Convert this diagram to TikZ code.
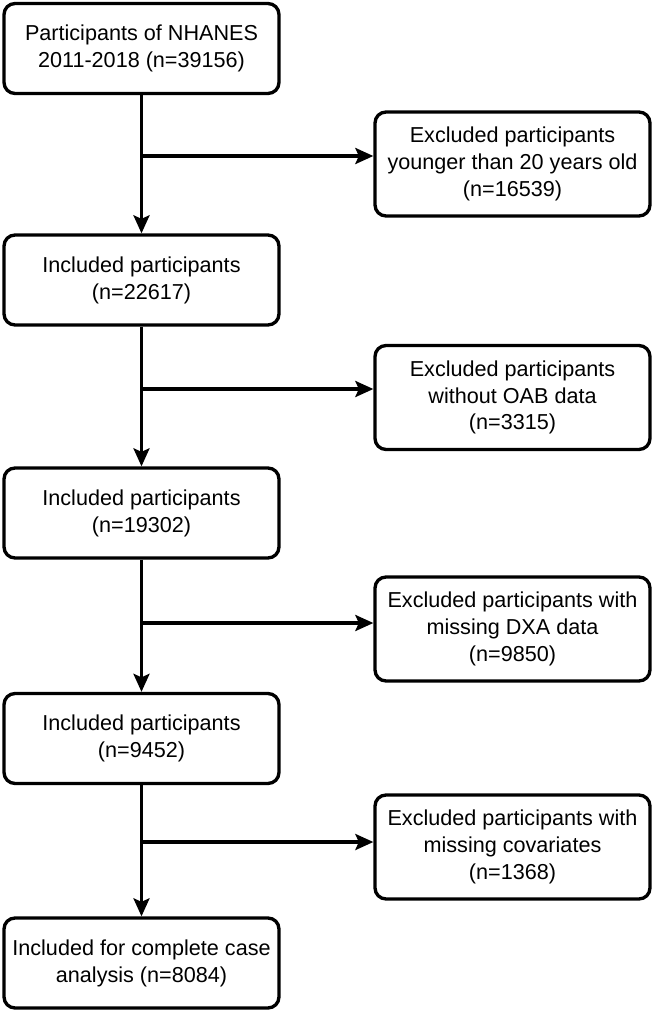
\documentclass[tikz,border=0pt]{standalone}
\usepackage{fontspec}
\setmainfont{Liberation Sans}
\usetikzlibrary{arrows.meta}

\begin{document}
\begin{tikzpicture}[x=0.02cm,y=-0.02cm,
		box/.style={draw,line width=1.9pt,rounded corners=0.22cm,align=center,
			minimum width=5.5cm,minimum height=1.8cm,inner sep=0pt,
			font=\fontsize{12.3pt}{15.3pt}\selectfont},
		exbox/.style={box,minimum height=2.08cm},
		flow/.style={-{Stealth[length=0.36cm,width=0.32cm,inset=0.07cm]},line width=1.9pt}]
			\useasboundingbox (0,0) rectangle (656,1015);
			
			\node[box] (incl0) at (141.5,48.5) {Participants of NHANES\\2011-2018 (n=39156)};
			\node[exbox] (excl1) at (512.5,164) {Excluded participants\\younger than 20 years old\\(n=16539)};
			\node[box] (incl1) at (141.5,280) {Included participants\\(n=22617)};
			\node[exbox] (excl2) at (512.5,397.5) {Excluded participants\\without OAB data\\(n=3315)};
			\node[box] (incl2) at (141.5,513) {Included participants\\(n=19302)};
			\node[exbox] (excl3) at (512.5,629) {Excluded participants with\\missing DXA data\\(n=9850)};
			\node[box] (incl3) at (141.5,738.5) {Included participants\\(n=9452)};
			\node[exbox] (excl4) at (512.5,847) {Excluded participants with\\missing covariates\\(n=1368)};
			\node[box] (incl4) at (141.5,963) {Included for complete case\\analysis (n=8084)};
			
			\coordinate (j1) at (141.5,156);
			\coordinate (j2) at (141.5,389);
			\coordinate (j3) at (141.5,623);
			\coordinate (j4) at (141.5,842);
			
			\draw[flow] (incl0) -- (incl1);
			\draw[flow] (incl1) -- (incl2);
			\draw[flow] (incl2) -- (incl3);
			\draw[flow] (incl3) -- (incl4);
			\draw[flow] (j1) -- (j1 -| excl1.west);
			\draw[flow] (j2) -- (j2 -| excl2.west);
			\draw[flow] (j3) -- (j3 -| excl3.west);
			\draw[flow] (j4) -- (j4 -| excl4.west);
		\end{tikzpicture}
\end{document}
